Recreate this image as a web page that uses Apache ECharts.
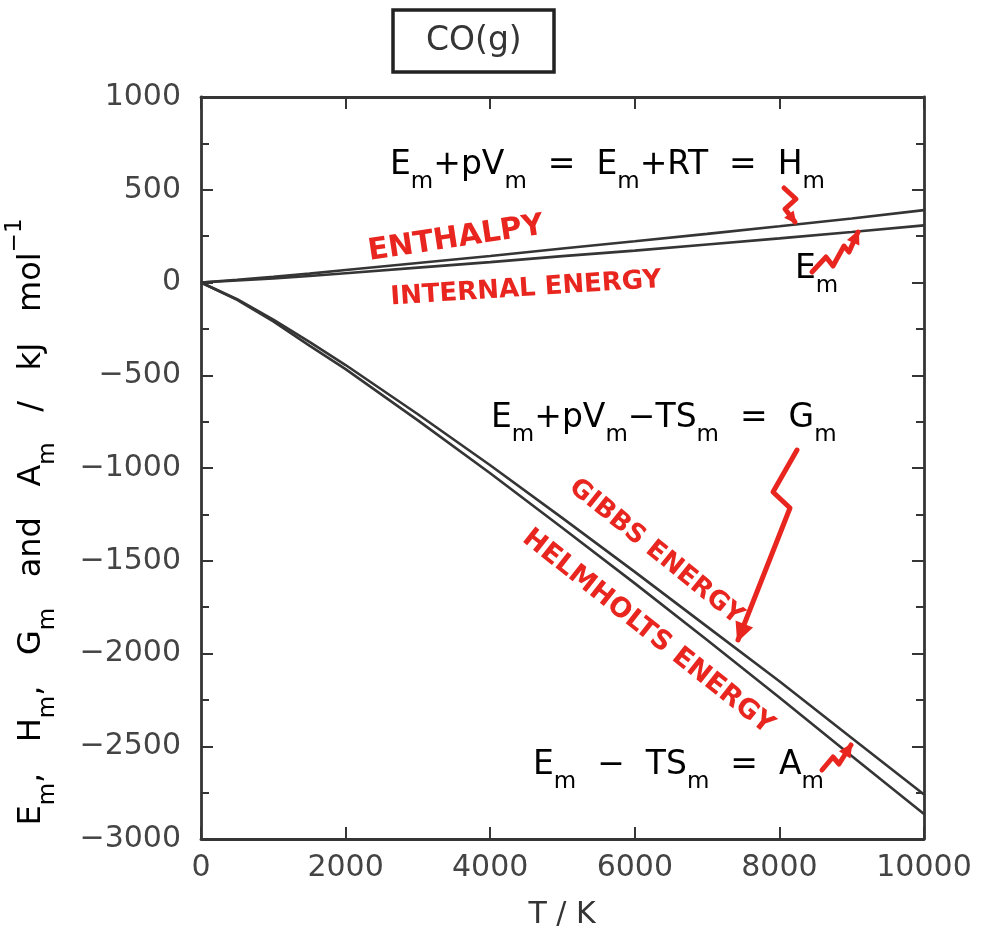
<!DOCTYPE html>
<html>
<head>
<meta charset="utf-8">
<title>CO(g)</title>
<script src="https://cdn.jsdelivr.net/npm/echarts@6/dist/echarts.min.js"></script>
<style>
  html, body { margin: 0; padding: 0; background: #fff; }
  #main { width: 983px; height: 942px; }
</style>
</head>
<body>
<div id="main"></div>
<script>
// 温度 T / K
var temps = [0, 500, 1000, 1500, 2000, 3000, 4000, 5000, 6000, 7000, 8000, 9000, 10000];
// H_m, E_m, G_m, A_m  (kJ mol^-1)
var enthalpy = [0, 15, 31, 48, 67, 105, 143, 183, 222, 262, 303, 345, 390];
var internalEnergy = [0, 11, 22, 35, 50, 80, 110, 142, 172, 205, 238, 272, 308];
var gibbs = [0, -90, -200, -320, -445, -710, -985, -1270, -1560, -1855, -2150, -2455, -2760];
var helmholtz = [0, -94, -210, -340, -467, -743, -1028, -1323, -1622, -1927, -2237, -2552, -2865];

var xTickLabels = ['0', '2000', '4000', '6000', '8000', '10000'];
var yTickLabels = ['\u22123000', '\u22122500', '\u22122000', '\u22121500', '\u22121000', '\u2212500', '0', '500', '1000'];

var FONT = 'DejaVu Sans';
var INK = '#353535';
var RED = '#e8261f';

function pairs(xs, ys) {
    return xs.map(function (x, i) { return [x, ys[i]]; });
}

var chart = echarts.init(document.getElementById('main'));

// 下标用 rich text
var subRich = {
    a: { fontFamily: FONT, fontSize: 33, lineHeight: 58, color: INK },
    s: { fontFamily: FONT, fontSize: 23, lineHeight: 22, verticalAlign: 'bottom', color: INK }
};

function formula(text, x, y) {
    return {
        type: 'text',
        x: x,
        y: y,
        z: 50,
        style: {
            text: text,
            rich: subRich,
            textAlign: 'left',
            textVerticalAlign: 'top'
        }
    };
}

function redText(text, x, y, size, rot) {
    return {
        type: 'text',
        x: x,
        y: y,
        rotation: rot,
        z: 50,
        style: {
            text: text,
            fill: RED,
            font: 'bold ' + size + 'px "' + FONT + '"',
            textAlign: 'center',
            textVerticalAlign: 'middle'
        }
    };
}

// 红色箭头
function arrow(points, head) {
    var n = points.length;
    var p = points[n - 1], q = points[n - 2];
    var ang = Math.atan2(p[1] - q[1], p[0] - q[0]);
    var len = head || 14;
    var l = [p[0] - len * Math.cos(ang - 0.45), p[1] - len * Math.sin(ang - 0.45)];
    var r = [p[0] - len * Math.cos(ang + 0.45), p[1] - len * Math.sin(ang + 0.45)];
    return [{
        type: 'polyline',
        z: 60,
        shape: { points: points },
        style: { stroke: RED, lineWidth: 5, lineJoin: 'round', lineCap: 'round', fill: null }
    }, {
        type: 'polygon',
        z: 60,
        shape: { points: [p, l, r] },
        style: { fill: RED, stroke: RED, lineWidth: 2 }
    }];
}

var axisLine = { onZero: false, lineStyle: { color: INK, width: 2.8 } };
var tick = { inside: true, length: 12, lineStyle: { color: INK, width: 2 } };
var minor = { show: true, splitNumber: 2, length: 8, lineStyle: { color: INK, width: 2 } };

var graphics = [
    formula('{a|E}{s|m}{a|+pV}{s|m}{a|  =  E}{s|m}{a|+RT  =  H}{s|m}', 390, 136),
    formula('{a|E}{s|m}{a|+pV}{s|m}{a|\u2212TS}{s|m}{a|  =  G}{s|m}', 491, 389),
    formula('{a|E}{s|m}{a|  \u2212  TS}{s|m}{a|  =  A}{s|m}', 533, 736),
    formula('{a|E}{s|m}', 795, 240),
    {
        type: 'text',
        x: 32,
        y: 522,
        rotation: Math.PI / 2,
        z: 50,
        style: {
            text: '{a|E}{s|m}{a|,   H}{s|m}{a|,   G}{s|m}{a|   and   A}{s|m}{a|   /   kJ   mol}{p|\u22121}',
            rich: {
                a: { fontFamily: FONT, fontSize: 32, lineHeight: 56, color: INK },
                s: { fontFamily: FONT, fontSize: 23, lineHeight: 20, verticalAlign: 'bottom', color: INK },
                p: { fontFamily: FONT, fontSize: 23, lineHeight: 20, verticalAlign: 'top', color: INK }
            },
            textAlign: 'center',
            textVerticalAlign: 'middle'
        }
    },
    redText('ENTHALPY', 456, 239, 30, 0.15),
    redText('INTERNAL ENERGY', 526, 289, 26, 0.065),
    redText('GIBBS ENERGY', 656, 552, 26, -0.68),
    redText('HELMHOLTS ENERGY', 648, 632, 27, -0.67),
    {
        type: 'text',
        x: 562,
        y: 915,
        style: {
            text: 'T / K',
            fill: INK,
            font: '30px "' + FONT + '"',
            textAlign: 'center',
            textVerticalAlign: 'middle'
        }
    }
];
graphics = graphics
    .concat(arrow([[784, 188], [796, 199], [785, 209], [795, 222]], 10))
    .concat(arrow([[812, 272], [826, 257], [833, 266], [844, 246], [849, 252], [858, 232]], 12))
    .concat(arrow([[797, 450], [773, 492], [790, 508], [738, 640]], 18))
    .concat(arrow([[822, 770], [833, 757], [839, 764], [851, 745]], 12));

var option = {
    animation: false,
    backgroundColor: '#fff',
    title: {
        text: 'CO(g)',
        left: 393,
        top: 10,
        padding: [14, 33, 14, 33],
        borderColor: '#222',
        borderWidth: 3.5,
        textStyle: { fontFamily: FONT, fontSize: 33, fontWeight: 'normal', color: INK, lineHeight: 34 }
    },
    grid: { left: 201, right: 59, top: 97, bottom: 103, containLabel: false },
    xAxis: [{
        type: 'value',
        min: 0,
        max: 10000,
        interval: 2000,
        axisLine: axisLine,
        axisTick: tick,
        axisLabel: {
            margin: 14,
            fontFamily: FONT, fontSize: 30, color: '#444',
            formatter: function (v) { return xTickLabels[v / 2000]; }
        },
        splitLine: { show: false }
    }, {
        type: 'value',
        position: 'top',
        min: 0,
        max: 10000,
        interval: 2000,
        axisLine: axisLine,
        axisTick: tick,
        axisLabel: { show: false },
        splitLine: { show: false }
    }],
    yAxis: [{
        type: 'value',
        min: -3000,
        max: 1000,
        interval: 500,
        axisLine: axisLine,
        axisTick: tick,
        minorTick: minor,
        axisLabel: {
            margin: 20,
            fontFamily: FONT, fontSize: 30, color: '#444',
            formatter: function (v) { return yTickLabels[(v + 3000) / 500]; }
        },
        splitLine: { show: false }
    }, {
        type: 'value',
        position: 'right',
        min: -3000,
        max: 1000,
        interval: 500,
        axisLine: axisLine,
        axisTick: tick,
        minorTick: minor,
        axisLabel: { show: false },
        splitLine: { show: false }
    }],
    series: [
        { name: 'H', type: 'line', data: pairs(temps, enthalpy) },
        { name: 'E', type: 'line', data: pairs(temps, internalEnergy) },
        { name: 'G', type: 'line', data: pairs(temps, gibbs) },
        { name: 'A', type: 'line', data: pairs(temps, helmholtz) }
    ].map(function (s) {
        s.showSymbol = false;
        s.smooth = false;
        s.lineStyle = { color: INK, width: 2.6 };
        s.silent = true;
        return s;
    }),
    graphic: graphics
};

chart.setOption(option);
</script>
</body>
</html>
